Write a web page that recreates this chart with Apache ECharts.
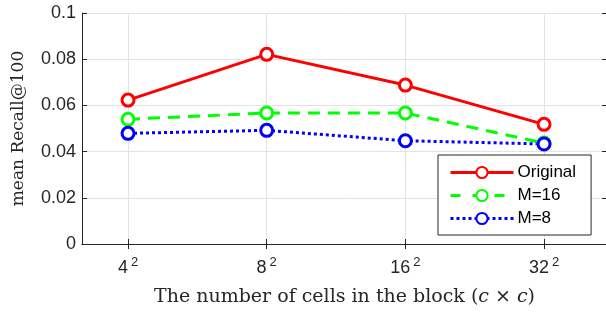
<!DOCTYPE html>
<html>
<head>
<meta charset="utf-8">
<script src="https://cdn.jsdelivr.net/npm/echarts@6/dist/echarts.min.js"></script>
<style>
  html, body { margin: 0; padding: 0; background: #fff; }
  #chart { width: 606px; height: 312px; }
</style>
</head>
<body>
<div id="chart"></div>
<script>
// block sizes (c), shown as c^2
const blockSizes = ['4', '8', '16', '32'];
const xPos = [1, 2, 3, 4];

const original = [0.0623, 0.0821, 0.0688, 0.0518];
const m16 = [0.0540, 0.0567, 0.0567, 0.0437];
const m8 = [0.0479, 0.0492, 0.0447, 0.0433];

const yTicks = [0, 0.02, 0.04, 0.06, 0.08, 0.1];

const textColor = '#262626';
const font = 'Liberation Sans';

const chart = echarts.init(document.getElementById('chart'));

// build [x, y] pairs
const pairs = vals => vals.map((v, i) => [xPos[i], v]);

const makeSeries = (name, vals, color, dash) => ({
  name: name,
  type: 'line',
  data: pairs(vals),
  symbol: 'circle',
  symbolSize: 12,
  showAllSymbol: true,
  lineStyle: { color: color, width: 3, type: dash },
  itemStyle: { color: '#fff', borderColor: color, borderWidth: 3 },
  emphasis: { disabled: true },
  animation: false
});

const xMin = 0.668, xMax = 4.454;

const option = {
  animation: false,
  grid: {
    left: 82,
    top: 13,
    width: 525,
    height: 231,
    outerBoundsMode: 'none'
  },
  legend: {
    left: 438,
    top: 155,
    orient: 'vertical',
    padding: [9, 15, 8, 11],
    itemWidth: 63,
    itemHeight: 14,
    itemGap: 6,
    backgroundColor: '#fff',
    borderColor: textColor,
    borderWidth: 1,
    borderRadius: 0,
    textStyle: { fontFamily: font, fontSize: 17, color: '#000', padding: [0, 0, 0, -1] },
    data: [
      { name: 'Original', lineStyle: { width: 3, color: '#ff0000', type: 'solid' } },
      { name: 'M=16', lineStyle: { width: 3, color: '#00ff00', type: [10, 12] } },
      { name: 'M=8', lineStyle: { width: 3, color: '#0000ff', type: [3, 3] } }
    ]
  },
  xAxis: [
    {
      type: 'value',
      min: xMin,
      max: xMax,
      name: 'The number of cells in the block ({i|c} × {i|c})',
      nameLocation: 'middle',
      nameGap: 44,
      nameTextStyle: {
        fontFamily: 'DejaVu Serif',
        fontSize: 19,
        color: textColor,
        rich: {
          i: { fontFamily: 'DejaVu Serif', fontStyle: 'italic', fontSize: 19, color: textColor }
        }
      },
      axisLine: { lineStyle: { color: textColor, width: 1 } },
      axisTick: { inside: true, length: 5, customValues: xPos, lineStyle: { color: textColor } },
      axisLabel: {
        customValues: xPos,
        margin: 12,
        formatter: v => '{b|' + blockSizes[xPos.indexOf(Math.round(v))] + '}{s|2}',
        rich: {
          b: { fontFamily: font, fontSize: 18, color: textColor },
          s: { fontFamily: font, fontSize: 13, color: textColor, padding: [0, 0, 12, 3] }
        }
      },
      splitLine: { show: true, lineStyle: { color: '#e3e3e3', width: 1 } }
    },
    {
      type: 'value',
      position: 'top',
      min: xMin,
      max: xMax,
      axisLine: { show: true, lineStyle: { color: textColor, width: 1 } },
      axisTick: { show: true, inside: true, length: 5, customValues: xPos, lineStyle: { color: textColor } },
      axisLabel: { show: false },
      splitLine: { show: false }
    }
  ],
  yAxis: [
    {
      type: 'value',
      min: yTicks[0],
      max: yTicks[yTicks.length - 1],
      interval: 0.02,
      name: 'mean Recall@100',
      nameLocation: 'middle',
      nameGap: 55,
      nameTextStyle: { fontFamily: 'DejaVu Serif', fontSize: 17, color: textColor },
      axisLine: { show: true, lineStyle: { color: textColor, width: 1 } },
      axisTick: { show: true, inside: true, length: 5, lineStyle: { color: textColor } },
      axisLabel: { fontFamily: font, fontSize: 18, color: textColor, margin: 6 },
      splitLine: { show: true, lineStyle: { color: '#e3e3e3', width: 1 } }
    },
    {
      type: 'value',
      position: 'right',
      min: yTicks[0],
      max: yTicks[yTicks.length - 1],
      interval: 0.02,
      axisLine: { show: true, lineStyle: { color: textColor, width: 1 } },
      axisTick: { show: true, inside: true, length: 5, lineStyle: { color: textColor } },
      axisLabel: { show: false },
      splitLine: { show: false }
    }
  ],
  series: [
    makeSeries('Original', original, '#ff0000', 'solid'),
    makeSeries('M=16', m16, '#00ff00', [12, 8]),
    makeSeries('M=8', m8, '#0000ff', [3, 3])
  ]
};

chart.setOption(option);
</script>
</body>
</html>
